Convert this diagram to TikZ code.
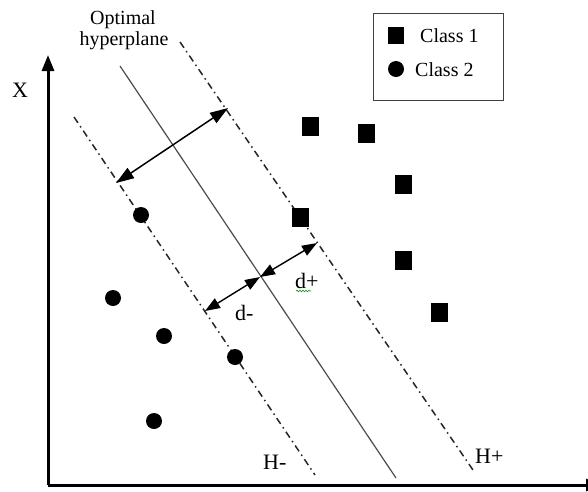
\documentclass[tikz,border=0pt]{standalone}
\usepackage{fontspec}
\setmainfont{Liberation Serif}
\usetikzlibrary{arrows.meta,decorations.pathmorphing}
\begin{document}
\begin{tikzpicture}[x=1pt,y=-1pt,
  lbl/.style={font=\fontsize{20}{24}\selectfont, inner sep=0pt},
  biglbl/.style={font=\fontsize{22}{26}\selectfont, inner sep=0pt},
  sq/.style={fill=black, minimum width=17pt, minimum height=19pt, inner sep=0pt},
  dot/.style={circle, fill=black, minimum size=16pt, inner sep=0pt},
  axis/.style={line width=3pt, -{Triangle[length=16pt,width=12pt]}},
  hyp/.style={line width=1.5pt, black!85, dash pattern=on 7pt off 4pt on 1.5pt off 4pt},
  opt/.style={line width=1.2pt, black!70},
  marg/.style={line width=1.4pt, {Triangle[length=15pt,width=11pt]}-{Triangle[length=15pt,width=11pt]}},
  bigmarg/.style={line width=1.5pt, {Triangle[length=18pt,width=12pt]}-{Triangle[length=18pt,width=12pt]}},
]
\useasboundingbox (0,0) rectangle (588,491);

% axes
\coordinate (O) at (48,485);
\coordinate (Ytop) at (48,55);
\coordinate (Xend) at (602,485);
\draw[axis] (O) -- (Ytop);
\draw[axis] (O) -- (Xend);
\node[biglbl, anchor=base west] (xlab) at (12,97) {X};

% hyperplanes
\coordinate (Hm1) at (74,117);
\coordinate (Hm2) at (315,475);
\coordinate (C1) at (120,66);
\coordinate (C2) at (396,478);
\coordinate (Hp1) at (180,42);
\coordinate (Hp2) at (473,470);
\draw[hyp] (Hm1) -- (Hm2);
\draw[opt] (C1) -- (C2);
\draw[hyp] (Hp1) -- (Hp2);

% margin arrows
\coordinate (A1) at (116,183);
\coordinate (A2) at (228,108);
\draw[bigmarg] (A1) -- (A2);
\coordinate (B1) at (205,311);
\coordinate (B2) at (260,277);
\coordinate (B3) at (317,243);
\draw[marg] (B1) -- (B2);
\draw[marg] (B2) -- (B3);

% labels
\node[lbl, anchor=base] (opt1) at (123,24) {Optimal};
\node[lbl, anchor=base] (opt2) at (124,45) {hyperplane};
\node[biglbl, anchor=base west] (dm) at (235,320) {d-};
\node[biglbl, anchor=base west] (dp) at (295,288) {d+};
\draw[green!60!black, line width=0.6pt, decorate, decoration={snake, amplitude=0.8pt, segment length=3pt}] (296,291) -- (311,291);
\node[biglbl, anchor=base west] (hm) at (263,469) {H-};
\node[biglbl, anchor=base west] (hp) at (475,463) {H+};

% class 1
\node[sq] (s1) at (310,126) {};
\node[sq] (s2) at (366,133) {};
\node[sq] (s3) at (403,184) {};
\node[sq] (s4) at (300,217) {};
\node[sq] (s5) at (403,260) {};
\node[sq] (s6) at (439,312) {};

% class 2
\node[dot] (c1) at (141,215) {};
\node[dot] (c2) at (113,298) {};
\node[dot] (c3) at (164,336) {};
\node[dot] (c4) at (235,357) {};
\node[dot] (c5) at (154,421) {};

% legend
\node[draw=black!75, line width=1pt, minimum width=130pt, minimum height=87pt, inner sep=0pt] (leg) at (438,56.5) {};
\node[fill=black, minimum width=16pt, minimum height=17pt, inner sep=0pt] (lsq) at (396,35) {};
\node[lbl, anchor=base west] (l1) at (420,42) {Class 1};
\node[dot] (ldot) at (396,69) {};
\node[lbl, anchor=base west] (l2) at (415,76) {Class 2};
\end{tikzpicture}
\end{document}
